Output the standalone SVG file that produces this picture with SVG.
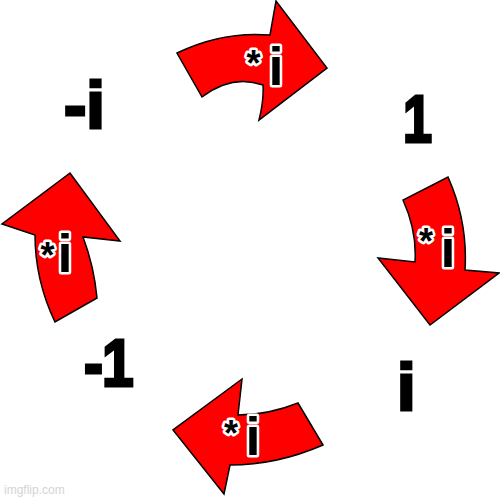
<svg xmlns="http://www.w3.org/2000/svg" width="500" height="500" viewBox="0 0 500 500">
<style>
.arrow{fill:#ff0000;stroke:#000;stroke-width:1.5;stroke-linejoin:miter}
.lbl{font-family:"Liberation Sans",Arial,sans-serif;font-weight:bold;font-size:67px;fill:#000;stroke:#000;stroke-width:3;stroke-linejoin:miter}
.mul{font-family:"Liberation Sans",Arial,sans-serif;font-weight:bold;font-size:54px;fill:#000;stroke:#fff;stroke-width:5;paint-order:stroke;stroke-linejoin:round}
.ast{font-size:36px}
.wm{font-family:"Liberation Sans",Arial,sans-serif;font-size:12px;fill:#d4d4d4}
</style>
<rect width="500" height="500" fill="#fff"/>
<g id="connectors">
  <g id="arrow-top">
    <path class="arrow" d="M177,53 Q222,31 270,35 L276,1 L327,68 L259,120 Q264,100 263,85 Q232,74 202,97 Z"/>
    <text class="mul"><tspan class="ast" x="246.5" y="76">*</tspan><tspan x="268.4" y="85">i</tspan></text>
  </g>
  <g id="arrow-right">
    <path class="arrow" d="M403,200 Q417,231 415,262 L378,258 L430,325 L499,273 L465,270 Q468,222 448,177 Z"/>
    <text class="mul"><tspan class="ast" x="419" y="254">*</tspan><tspan x="440.4" y="267">i</tspan></text>
  </g>
  <g id="arrow-bottom">
    <path class="arrow" d="M298,403 Q268,415 238,415 L242,379 L173,430 L224,494 L230,465 Q277,465 323,445 Z"/>
    <text class="mul"><tspan class="ast" x="224" y="446">*</tspan><tspan x="245.4" y="455">i</tspan></text>
  </g>
  <g id="arrow-left">
    <path class="arrow" d="M70,173 L2,224 L35,235 Q35,280 55,322 L97,298 Q94,266 83,237 L120,241 Z"/>
    <text class="mul"><tspan class="ast" x="40.5" y="267.5">*</tspan><tspan x="57.4" y="272">i</tspan></text>
  </g>
</g>
<g id="node-minus-i"><text class="lbl" x="64" y="127.5">-i</text></g>
<g id="node-one"><text class="lbl" transform="translate(403,141.5) scale(0.78,1)" x="0" y="0">1</text></g>
<g id="node-i"><text class="lbl" x="397" y="409.5">i</text></g>
<g id="node-minus-one"><text class="lbl" transform="translate(84,385.5) scale(0.85,1)" x="0" y="0" letter-spacing="-1">-1</text></g>
<text class="wm" x="4" y="494">imgflip.com</text>
</svg>
